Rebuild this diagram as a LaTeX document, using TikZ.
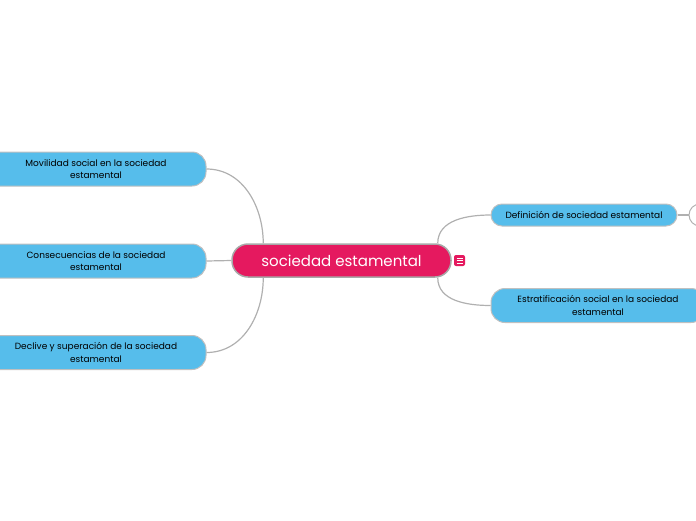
\documentclass[tikz,border=0pt]{standalone}
\usepackage{fontspec}
\setmainfont{Poppins}
\usetikzlibrary{calc}

\definecolor{rootpink}{HTML}{E5195F}
\definecolor{topicblue}{HTML}{56BDEB}
\definecolor{rimgray}{HTML}{A8A8A8}
\definecolor{linkgray}{HTML}{B0B0B0}

\tikzset{
  root/.style={draw=rimgray, line width=1.5pt, fill=rootpink, text=white, rounded corners=16pt, minimum width=219pt, minimum height=33pt, inner sep=0pt, font=\fontsize{15}{18}\selectfont},
  topic/.style={draw=linkgray!80, line width=1pt, fill=topicblue, text=black, rounded corners=14pt, minimum height=34pt, inner sep=0pt, align=center, font=\fontsize{9}{12.5}\selectfont},
  link/.style={draw=linkgray, line width=1.2pt}
}

\begin{document}
\begin{tikzpicture}[x=1pt, y=-1pt]
    \useasboundingbox (0,0) rectangle (696,520);
    \clip (0,0) rectangle (696,520);
    \node[root] (soc) at (341.5,260.5) {sociedad estamental};
    \node[topic, minimum width=220pt] (movil) at (96,169) {Movilidad social en la sociedad\\estamental};
    \node[topic, minimum width=220pt] (conse) at (96,261) {Consecuencias de la sociedad\\estamental};
    \node[topic, minimum width=220pt] (decl) at (96,352.5) {Declive y superación de la sociedad\\estamental};
    \node[topic, minimum width=186pt, minimum height=22pt, rounded corners=11pt] (defi) at (584,215) {Definición de sociedad estamental};
    \node[topic, minimum width=214pt] (estra) at (598,305.5) {Estratificación social en la sociedad\\estamental};
    \node[draw=linkgray, line width=1pt, fill=white, circle, minimum size=22pt, inner sep=0pt] (more) at (700,215) {};
    \node[fill=rootpink, rounded corners=2pt, minimum size=11pt, inner sep=0pt] (note) at (459.5,260.5) {};
    \foreach \dy in {-2.5,0,2.5}
      \draw[white, line width=0.9pt] ($(note.center)+(-3,\dy)$) -- ($(note.center)+(3,\dy)$);
    % branches
    \draw[link] ($(soc.north west)+(32,0)$) to[out=90, in=0] (movil.east);
    \draw[link] (soc.west) -- (conse.east);
    \draw[link] ($(soc.south west)+(32,0)$) to[out=-90, in=0] (decl.east);
    \draw[link] ($(soc.north east)+(-14,0)$) to[out=90, in=180] (defi.west);
    \draw[link] ($(soc.south east)+(-14,0)$) to[out=-90, in=180] (estra.west);
    \draw[link] (defi.east) -- (more.west);
\end{tikzpicture}
\end{document}
